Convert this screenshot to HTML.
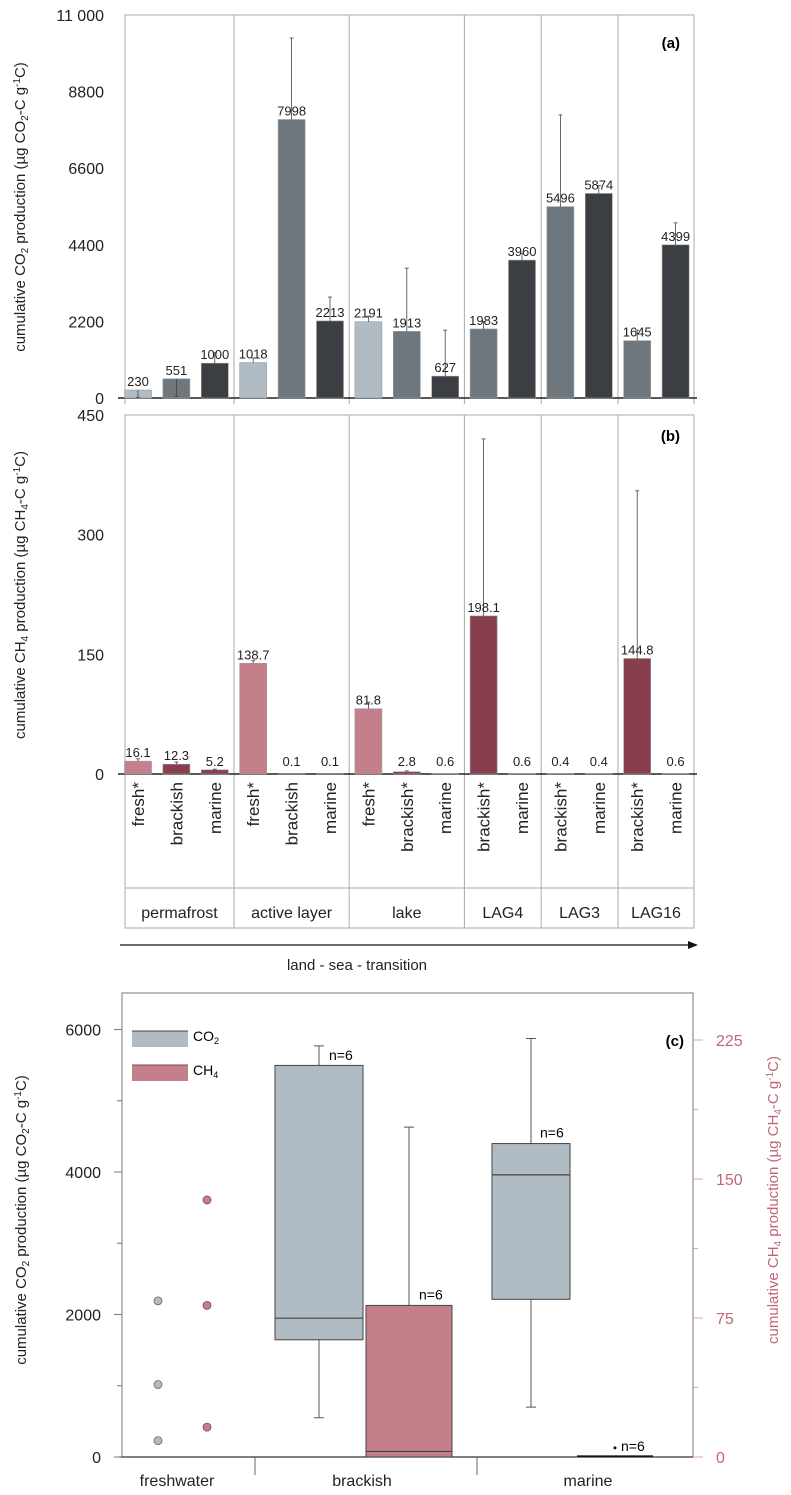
<!DOCTYPE html>
<html><head><meta charset="utf-8"><style>
html,body{margin:0;padding:0;background:#fff}
svg{display:block;font-family:"Liberation Sans",sans-serif}
</style></head><body>
<svg id="c" width="791" height="1495" viewBox="0 0 791 1495"></svg>
<script>
const barLabels=["230","551","1000","1018","7998","2213","2191","1913","627","1983","3960","5496","5874","1645","4399"];
const co2Values=[230,551,1000,1018,7998,2213,2191,1913,627,1983,3960,5496,5874,1645,4399];
const co2Err=[20,40,1300,1150,10340,2900,2350,3730,1950,2200,4150,8130,6100,1950,5030];
const ch4Values=[16.1,12.3,5.2,138.7,0.1,0.1,81.8,2.8,0.6,198.1,0.6,0.4,0.4,144.8,0.6];
const ch4Err=[19,15,6,142,0.1,0.1,90,4,0.6,420,0.6,0.4,0.4,355,0.6];
const ch4Labels=["16.1","12.3","5.2","138.7","0.1","0.1","81.8","2.8","0.6","198.1","0.6","0.4","0.4","144.8","0.6"];
const barTypes=["f","b","m","f","b","m","f","b","m","b","m","b","m","b","m"];
const sampleNames=["fresh*","brackish","marine","fresh*","brackish","marine","fresh*","brackish*","marine","brackish*","marine","brackish*","marine","brackish*","marine"];
const groups=["permafrost","active layer","lake","LAG4","LAG3","LAG16"];
const groupSizes=[3,3,3,2,2,2];
const co2Ticks=[0,2200,4400,6600,8800,11000];
const co2TickLabels=["0","2200","4400","6600","8800","11 000"];
const ch4Ticks=[0,150,300,450];
const boxCats=["freshwater","brackish","marine"];
const freshCO2=[2191,1018,230];
const freshCH4=[138.7,81.8,16.1];
const brackCO2=[551,1645,1948,5496,5770];
const brackCH4=[0,0,3,81.8,178];
const marineCO2=[700,2213,3960,4399,5874];
const marineCH4=[0.4,0.4,0.5,0.6,0.6];
const leftTicks=[0,2000,4000,6000];
const rightTicks=[0,75,150,225];

const svg=document.getElementById('c');
const NS='http://www.w3.org/2000/svg';
function mk(t,a,txt){const e=document.createElementNS(NS,t);for(const k in a)e.setAttribute(k,a[k]);if(txt!==undefined)e.textContent=txt;svg.appendChild(e);return e;}
const L=125,R=694,step=38.4,bw=27;
const bx=i=>138+i*step;
const yA=v=>398-v/11000*383;
const yB=v=>774-v/450*359;
const colA={f:"#b1bbc4",b:"#6f777e",m:"#3b3f43"};
const colB={f:"#c47f8b",b:"#873f4e",m:"#873f4e"};
let e=mk('rect',{x:L,y:15,width:R-L,height:383,fill:'none',stroke:'#aaa'});

e=mk('rect',{x:L,y:415,width:R-L,height:513,fill:'none',stroke:'#aaa'});

mk('line',{x1:L,y1:888,x2:R,y2:888,stroke:'#aaa'});
let cum=0;
groupSizes.forEach((n,g)=>{
  const x0=bx(cum)-step/2, x1=bx(cum+n-1)+step/2;
  if(g>0){mk('line',{x1:x0,y1:15,x2:x0,y2:404,stroke:'#aaa'});mk('line',{x1:x0,y1:415,x2:x0,y2:928,stroke:'#aaa'});}
  e=mk('text',{x:(Math.max(x0,L)+Math.min(x1,R))/2,y:918,'font-size':16,'text-anchor':'middle',fill:'#222'},groups[g]);
  
  cum+=n;
});
mk('line',{x1:R,y1:398,x2:R,y2:404,stroke:'#aaa'});
mk('line',{x1:L,y1:398,x2:L,y2:404,stroke:'#aaa'});
co2Ticks.forEach((t,i)=>{e=mk('text',{x:104,y:yA(t)+6,'font-size':16,'text-anchor':'end',fill:'#222'},co2TickLabels[i]);});
ch4Ticks.forEach(t=>{e=mk('text',{x:104,y:yB(t)+6,'font-size':16,'text-anchor':'end',fill:'#222'},String(t));});
mk('line',{x1:118,y1:398,x2:R+3,y2:398,stroke:'#222','stroke-width':1.5});
mk('line',{x1:118,y1:774,x2:R+3,y2:774,stroke:'#222','stroke-width':1.5});
co2Values.forEach((v,i)=>{
  const x=bx(i);
  e=mk('rect',{x:x-bw/2,y:yA(v),width:bw,height:398-yA(v),fill:colA[barTypes[i]],stroke:'#999','stroke-width':0.6});
  
  mk('line',{x1:x,y1:yA(v),x2:x,y2:yA(co2Err[i]),stroke:'#444','stroke-width':0.8});
  mk('line',{x1:x-2,y1:yA(co2Err[i]),x2:x+2,y2:yA(co2Err[i]),stroke:'#444','stroke-width':0.8});
  e=mk('text',{x:x,y:yA(v)-4,'font-size':13,'text-anchor':'middle',fill:'#222'},barLabels[i]);
  
});
ch4Values.forEach((v,i)=>{
  const x=bx(i);
  e=mk('rect',{x:x-bw/2,y:yB(v),width:bw,height:774-yB(v),fill:colB[barTypes[i]],stroke:'#999','stroke-width':0.6});
  
  if(ch4Err[i]-v>0.5){mk('line',{x1:x,y1:yB(v),x2:x,y2:yB(ch4Err[i]),stroke:'#444','stroke-width':0.8});
  mk('line',{x1:x-2,y1:yB(ch4Err[i]),x2:x+2,y2:yB(ch4Err[i]),stroke:'#444','stroke-width':0.8});}
  e=mk('text',{x:x,y:v<3?766:yB(v)-4,'font-size':13,'text-anchor':'middle',fill:'#222'},ch4Labels[i]);
  
  e=mk('text',{x:0,y:0,'font-size':17,'text-anchor':'end',fill:'#222',transform:`translate(${x+6},782) rotate(-90)`},sampleNames[i]);
  
});
e=mk('text',{x:680,y:48,'font-size':15,'font-weight':'bold','text-anchor':'end'},'(a)');
e=mk('text',{x:680,y:441,'font-size':15,'font-weight':'bold','text-anchor':'end'},'(b)');
e=mk('text',{x:0,y:0,'font-size':15,'text-anchor':'middle',fill:'#222',transform:'translate(25,207) rotate(-90)'});
e.innerHTML='cumulative CO<tspan font-size="10" dy="3">2</tspan><tspan dy="-3"> production (µg CO</tspan><tspan font-size="10" dy="3">2</tspan><tspan dy="-3">-C g</tspan><tspan font-size="10" dy="-5">-1</tspan><tspan dy="5">C)</tspan>';

e=mk('text',{x:0,y:0,'font-size':15,'text-anchor':'middle',fill:'#222',transform:'translate(25,595) rotate(-90)'});
e.innerHTML='cumulative CH<tspan font-size="10" dy="3">4</tspan><tspan dy="-3"> production (µg CH</tspan><tspan font-size="10" dy="3">4</tspan><tspan dy="-3">-C g</tspan><tspan font-size="10" dy="-5">-1</tspan><tspan dy="5">C)</tspan>';

e=mk('line',{x1:120,y1:945,x2:690,y2:945,stroke:'#111','stroke-width':1.3});
mk('polygon',{points:'698,945 688,941 688,949',fill:'#111'});
e=mk('text',{x:357,y:970,'font-size':15,'text-anchor':'middle',fill:'#222'},'land - sea - transition');

const cL=122,cR=693,cT=993,c0=1457;
const yL=v=>c0-v/2000*142.5;
const yR=v=>c0-v/75*139;
e=mk('rect',{x:cL,y:cT,width:cR-cL,height:c0-cT,fill:'none',stroke:'#777'});
mk('line',{x1:cL-3,y1:c0,x2:cR,y2:c0,stroke:'#333','stroke-width':1.3});
[255,477].forEach(x=>mk('line',{x1:x,y1:c0,x2:x,y2:1475,stroke:'#666'}));
[1000,3000,5000].forEach(t=>mk('line',{x1:cL-5,y1:yL(t),x2:cL,y2:yL(t),stroke:'#777'}));
leftTicks.forEach(t=>{mk('line',{x1:cL-8,y1:yL(t),x2:cL,y2:yL(t),stroke:'#777'});e=mk('text',{x:101,y:yL(t)+6,'font-size':16,'text-anchor':'end',fill:'#222'},String(t));});
[37.5,112.5,187.5].forEach(t=>mk('line',{x1:cR,y1:yR(t),x2:cR+5,y2:yR(t),stroke:'#e0a0aa'}));
rightTicks.forEach(t=>{mk('line',{x1:cR,y1:yR(t),x2:cR+10,y2:yR(t),stroke:'#e0a0aa'});e=mk('text',{x:716,y:yR(t)+6,'font-size':16,fill:'#c06676'},String(t));});
const catX=[177,362,588];
boxCats.forEach((c,i)=>{e=mk('text',{x:catX[i],y:1486,'font-size':16,'text-anchor':'middle',fill:'#222'},c);});
freshCO2.forEach(v=>{e=mk('circle',{cx:158,cy:yL(v),r:4,fill:'#b1bbc4',stroke:'#666','stroke-width':0.8});});
freshCH4.forEach(v=>{e=mk('circle',{cx:207,cy:yR(v),r:4,fill:'#c47f8b',stroke:'#7a4450','stroke-width':0.8});});
function box(d,x0,x1,yf,fill,name){
  const xc=(x0+x1)/2;
  mk('line',{x1:xc,y1:yf(d[0]),x2:xc,y2:yf(d[4]),stroke:'#555'});
  mk('line',{x1:xc-5,y1:yf(d[0]),x2:xc+5,y2:yf(d[0]),stroke:'#555'});
  mk('line',{x1:xc-5,y1:yf(d[4]),x2:xc+5,y2:yf(d[4]),stroke:'#555'});
  const r=mk('rect',{x:x0,y:yf(d[3]),width:x1-x0,height:Math.max(1,yf(d[1])-yf(d[3])),fill:fill,stroke:'#444'});
  
  
  const t=document.createElementNS(NS,'title');t.textContent=name;r.appendChild(t);
  mk('line',{x1:x0,y1:yf(d[2]),x2:x1,y2:yf(d[2]),stroke:'#444','stroke-width':1.2});
  return xc;
}
let xc=box(brackCO2,275,363,yL,'#b1bbc4','brackish-co2-box');
e=mk('text',{x:xc+10,y:yL(brackCO2[4])+14,'font-size':14},'n=6');
xc=box(brackCH4,366,452,yR,'#c47f8b','brackish-ch4-box');
e=mk('text',{x:xc+10,y:yR(brackCH4[3])-6,'font-size':14},'n=6');
xc=box(marineCO2,492,570,yL,'#b1bbc4','marine-co2-box');
e=mk('text',{x:xc+9,y:yL(marineCO2[3])-6,'font-size':14},'n=6');
e=mk('line',{x1:577,y1:yR(marineCH4[2]),x2:653,y2:yR(marineCH4[2]),stroke:'#111','stroke-width':1.5});
mk('circle',{cx:615,cy:yR(marineCH4[4])-8,r:1.5,fill:'#111'});
e=mk('text',{x:621,y:yR(marineCH4[4])-5,'font-size':14},'n=6');
e=mk('rect',{x:132,y:1031,width:56,height:16,fill:'#b1bbc4'});
mk('line',{x1:132,y1:1031,x2:188,y2:1031,stroke:'#444'});
e=mk('text',{x:193,y:1041,'font-size':14});e.innerHTML='CO<tspan font-size="9" dy="3">2</tspan>';
e=mk('rect',{x:132,y:1065,width:56,height:16,fill:'#c47f8b'});
mk('line',{x1:132,y1:1065,x2:188,y2:1065,stroke:'#7a4450'});
e=mk('text',{x:193,y:1075,'font-size':14});e.innerHTML='CH<tspan font-size="9" dy="3">4</tspan>';
e=mk('text',{x:684,y:1046,'font-size':15,'font-weight':'bold','text-anchor':'end'},'(c)');
e=mk('text',{x:0,y:0,'font-size':15,'text-anchor':'middle',fill:'#222',transform:'translate(26,1220) rotate(-90)'});
e.innerHTML='cumulative CO<tspan font-size="10" dy="3">2</tspan><tspan dy="-3"> production (µg CO</tspan><tspan font-size="10" dy="3">2</tspan><tspan dy="-3">-C g</tspan><tspan font-size="10" dy="-5">-1</tspan><tspan dy="5">C)</tspan>';

e=mk('text',{x:0,y:0,'font-size':15,'text-anchor':'middle',fill:'#c06676',transform:'translate(778,1200) rotate(-90)'});
e.innerHTML='cumulative CH<tspan font-size="10" dy="3">4</tspan><tspan dy="-3"> production (µg CH</tspan><tspan font-size="10" dy="3">4</tspan><tspan dy="-3">-C g</tspan><tspan font-size="10" dy="-5">-1</tspan><tspan dy="5">C)</tspan>';

</script>
</body></html>
